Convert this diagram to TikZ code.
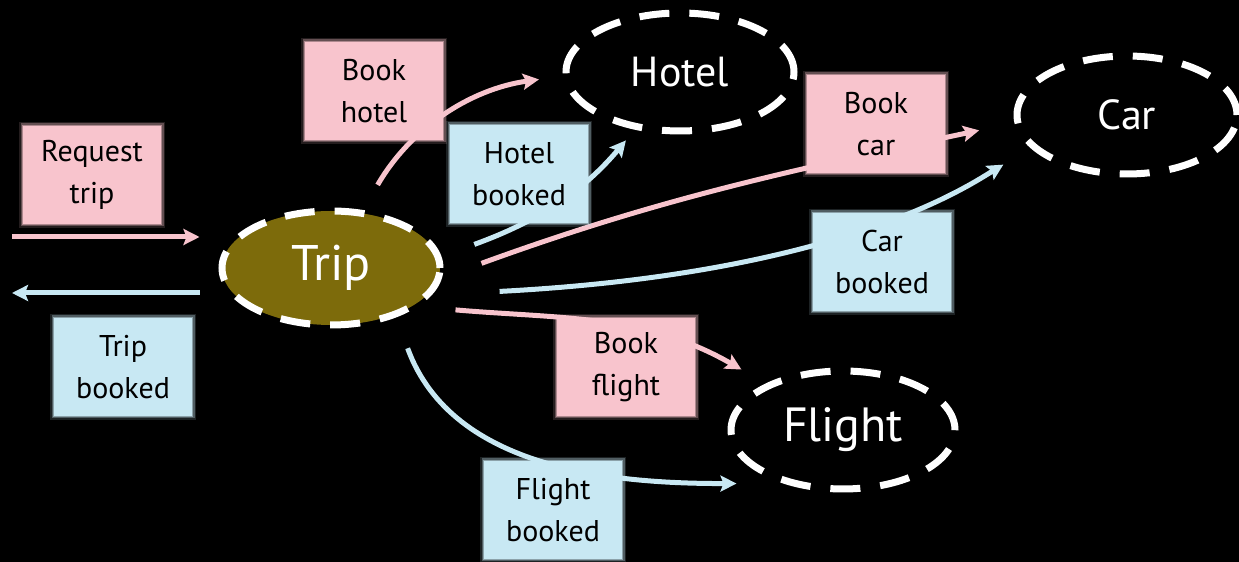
\documentclass[tikz,border=0pt]{standalone}
\usepackage{fontspec}
\setmainfont{PT Sans}
\usetikzlibrary{arrows.meta,shapes.geometric}

\definecolor{notepink}{RGB}{248,196,205}
\definecolor{noteblue}{RGB}{200,232,243}
\definecolor{tripolive}{RGB}{125,107,11}

\begin{document}
\begin{tikzpicture}[x=0.5pt, y=0.5pt,
  service/.style={ellipse, draw=white, line width=3.5pt, dash pattern=on 15pt off 10pt,
    text=white, inner sep=0pt, font=\fontsize{21}{25}\selectfont},
  note/.style={rectangle, fill=#1, minimum width=69pt, minimum height=49pt,
    align=center, inner sep=0pt, font=\fontsize{15}{21}\selectfont,
    preaction={draw=#1, draw opacity=0.15, line width=4pt},
    preaction={draw=#1, draw opacity=0.3, line width=2.5pt},
    preaction={draw=#1, draw opacity=0.5, line width=1pt}},
  msg/.style={line width=2.5pt, draw=#1, -{Stealth[length=8pt, width=8pt, inset=1.5pt]}},
]
  \useasboundingbox (0,0) rectangle (1239,562);
  \fill[black] (0,0) rectangle (1239,562);

  % services
  \node[service, fill=tripolive, minimum width=109pt, minimum height=57pt,
    font=\fontsize{25}{30}\selectfont] (trip) at (331,294) {Trip};
  \node[service, minimum width=114pt, minimum height=59pt] (hotel) at (680,490) {Hotel};
  \node[service, minimum width=110pt, minimum height=59pt] (car) at (1127,447) {Car};
  \node[service, minimum width=112pt, minimum height=59pt,
    font=\fontsize{24}{28}\selectfont] (flight) at (843,132) {Flight};

  \coordinate (userreq) at (12,325);
  \coordinate (userack) at (12,269);

  % messages
  \draw[msg=notepink, shorten >=9.5pt] (userreq) -- (userreq -| trip.west);
  \draw[msg=noteblue, shorten <=9.5pt] (userack -| trip.west) -- (userack);

  \draw[msg=notepink, shorten <=14.5pt, shorten >=12pt] (trip.61) to[out=60, in=188] (hotel.182);
  \draw[msg=noteblue, shorten <=17.5pt, shorten >=7pt] (trip.6) to[out=20, in=230] (hotel.232);
  \draw[msg=notepink, shorten <=21pt, shorten >=18pt] (trip.-5) to[out=20, in=192] (car.184);
  \draw[msg=noteblue, shorten <=34pt, shorten >=16pt]
    (trip.-15) to[out=3, in=211, out looseness=1.7, in looseness=0.3] (car.199);
  \draw[msg=notepink, shorten <=19pt, shorten >=14pt] (trip.-24) to[out=-5, in=150] (flight.149);
  \draw[msg=noteblue, shorten <=16.5pt, shorten >=23.5pt] (trip.-37) to[out=-70, in=180] (flight.222);

  % sticky notes
  \node[note=notepink] (reqtrip) at (92,387) {Request\\trip};
  \node[note=noteblue] (tripbooked) at (123,195) {Trip\\booked};
  \node[note=notepink] (bookhotel) at (374,471) {Book\\hotel};
  \node[note=noteblue] (hotelbooked) at (519,388) {Hotel\\booked};
  \node[note=notepink] (bookcar) at (876,438) {Book\\car};
  \node[note=noteblue] (carbooked) at (882,300) {Car\\booked};
  \node[note=notepink] (bookflight) at (626,195) {Book\\flight};
  \node[note=noteblue] (flightbooked) at (553,52) {Flight\\booked};
\end{tikzpicture}
\end{document}
